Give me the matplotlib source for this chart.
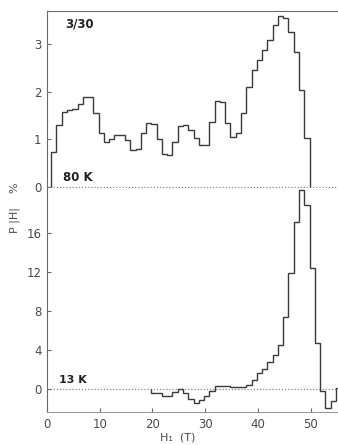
"""Two-panel field distribution P(|H|) histograms at 80 K and 13 K."""

import matplotlib
matplotlib.use("Agg")
import matplotlib.pyplot as plt
import numpy as np

# bin layout (tesla)
BIN_START_80K = 0.8
BIN_START_13K = 19.8
BIN_WIDTH = 1.0

# P(|H|) in %, one value per 1 T bin
p_80k = [0.74, 1.30, 1.58, 1.62, 1.63, 1.75, 1.90, 1.88, 1.56, 1.13,
         0.95, 1.00, 1.09, 1.08, 0.99, 0.78, 0.80, 1.13, 1.35, 1.32,
         1.00, 0.68, 0.66, 0.95, 1.27, 1.30, 1.20, 1.03, 0.88, 0.88,
         1.37, 1.80, 1.78, 1.35, 1.05, 1.13, 1.56, 2.10, 2.46, 2.67,
         2.88, 3.09, 3.41, 3.60, 3.55, 3.27, 2.83, 2.03, 1.03]
p_13k = [-0.45, -0.45, -0.72, -0.72, -0.30, 0.0, -0.38, -1.06, -1.47, -1.13,
         -0.68, -0.17, 0.34, 0.30, 0.28, 0.25, 0.20, 0.17, 0.41, 0.92,
         1.6, 2.1, 2.8, 3.5, 4.5, 7.4, 11.9, 17.2, 20.4, 18.9,
         12.4, 4.7, -0.2, -1.9, -1.2, 0.1]

x_ticks = [0, 10, 20, 30, 40, 50]
y_ticks_80k = [0, 1, 2, 3]
y_ticks_13k = [0, 4, 8, 12, 16]

LINE = "#3a3a3a"
AXIS = "#6a6a6a"
TEXT = "#4a4a4a"

plt.rcParams["font.family"] = ["DejaVu Sans"]

fig = plt.figure(figsize=(3.38, 4.45), dpi=100)
ax_top = fig.add_axes([0.139, 0.5775, 0.861, 0.3978])
ax_bot = fig.add_axes([0.139, 0.0742, 0.861, 0.5034])

edges_80k = BIN_START_80K + BIN_WIDTH * np.arange(len(p_80k) + 1)
edges_13k = BIN_START_13K + BIN_WIDTH * np.arange(len(p_13k) + 1)

ax_top.stairs(p_80k, edges_80k, baseline=0, color=LINE, lw=1.0)
ax_bot.stairs(p_13k, edges_13k, baseline=0, color=LINE, lw=1.0)

for ax in (ax_top, ax_bot):
    ax.axhline(0, color="#888888", lw=0.9, ls=(0, (1, 1.5)), zorder=0)
    ax.set_xlim(0, 55.2)
    ax.spines["right"].set_visible(False)
    ax.spines["left"].set_color(AXIS)
    ax.tick_params(direction="in", length=3, width=0.8, colors=AXIS,
                   labelcolor=TEXT, labelsize=8.5, pad=4)

ax_top.set_ylim(-0.03, 3.705)
ax_top.set_yticks(y_ticks_80k)
ax_top.set_xticks([])
ax_top.spines["bottom"].set_visible(False)
ax_top.spines["top"].set_color(AXIS)

ax_bot.set_ylim(-2.36, 20.66)
ax_bot.set_yticks(y_ticks_13k)
ax_bot.set_xticks(x_ticks)
ax_bot.spines["top"].set_visible(False)
ax_bot.spines["bottom"].set_color("#999999")

ax_top.text(3.4, 3.35, "3/30", fontsize=8.5, color="#222222", fontweight="bold")
ax_top.text(3.0, 0.12, "80 K", fontsize=8.5, color="#222222", fontweight="bold")
ax_bot.text(2.3, 0.6, "13 K", fontsize=8, color="#222222", fontweight="bold")

fig.text(0.045, 1 - 208 / 445, "P |H|    %", rotation=90, ha="center",
         va="center", fontsize=8, color=TEXT)
fig.text(0.525, 1 - 438 / 445, "H\u2081  (T)", ha="center", va="center",
         fontsize=8, color=TEXT)

fig.savefig("out.png", dpi=100)
plt.close(fig)
